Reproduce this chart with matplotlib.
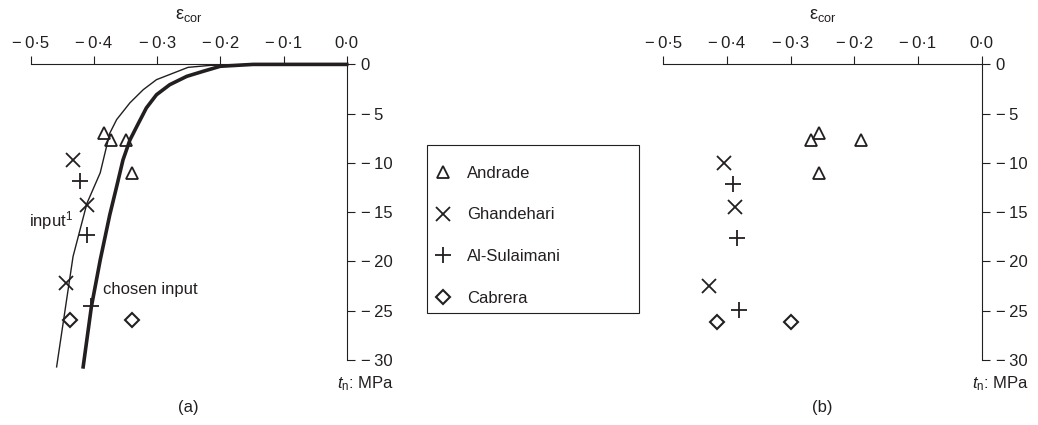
import matplotlib
matplotlib.use("Agg")
import matplotlib.pyplot as plt
from matplotlib.patches import Rectangle

INK = "#231f20"
MINUS = "\u2212\u2009"

# strain axis ticks (shared by both panels)
eps_ticks = [-0.5, -0.4, -0.3, -0.2, -0.1, 0.0]
eps_tick_labels = [MINUS + "0\u00b75", MINUS + "0\u00b74", MINUS + "0\u00b73",
                   MINUS + "0\u00b72", MINUS + "0\u00b71", "0\u00b70"]
t_ticks = [0, -5, -10, -15, -20, -25, -30]
t_tick_labels = ["0", MINUS + "5", MINUS + "10", MINUS + "15", MINUS + "20", MINUS + "25", MINUS + "30"]

# (a) model curves
input1_eps = [0.0, -0.148, -0.216, -0.251, -0.301, -0.322, -0.343, -0.364, -0.375, -0.390, -0.411, -0.433, -0.459]
input1_t = [0.0, 0.0, -0.1, -0.3, -1.55, -2.57, -3.9, -5.6, -7.0, -11.0, -14.1, -19.5, -30.7]
chosen_eps = [0.0, -0.148, -0.200, -0.227, -0.253, -0.280, -0.301, -0.317, -0.332, -0.343,
              -0.354, -0.364, -0.375, -0.390, -0.404, -0.417]
chosen_t = [0.0, 0.0, -0.19, -0.70, -1.21, -2.06, -3.08, -4.42, -6.28, -7.67,
            -9.70, -12.4, -15.3, -19.85, -24.6, -30.7]

# (a) test data
andrade_a_eps = [-0.384, -0.373, -0.349, -0.339]
andrade_a_t = [-7.0, -7.7, -7.7, -11.0]
ghandehari_a_eps = [-0.433, -0.411, -0.444]
ghandehari_a_t = [-9.7, -14.3, -22.2]
sulaimani_a_eps = [-0.422, -0.411, -0.405]
sulaimani_a_t = [-11.8, -17.3, -24.5]
cabrera_a_eps = [-0.438, -0.339]
cabrera_a_t = [-25.9, -25.9]

# (b) test data
andrade_b_eps = [-0.255, -0.268, -0.189, -0.255]
andrade_b_t = [-7.0, -7.7, -7.7, -11.0]
ghandehari_b_eps = [-0.404, -0.388, -0.428]
ghandehari_b_t = [-10.0, -14.5, -22.5]
sulaimani_b_eps = [-0.390, -0.384, -0.381]
sulaimani_b_t = [-12.1, -17.6, -24.9]
cabrera_b_eps = [-0.416, -0.299]
cabrera_b_t = [-26.1, -26.1]

series_names = ["Andrade", "Ghandehari", "Al-Sulaimani", "Cabrera"]
marker_styles = [
    dict(marker="^", markersize=9, markeredgewidth=1.3),
    dict(marker="x", markersize=9.5, markeredgewidth=1.3),
    dict(marker="+", markersize=12, markeredgewidth=1.3),
    dict(marker="D", markersize=6.8, markeredgewidth=1.5),
]

plt.rcParams.update({
    "font.family": ["Liberation Sans", "DejaVu Sans"],
    "font.size": 12,
    "text.color": INK,
    "mathtext.fontset": "custom",
    "mathtext.rm": "Liberation Sans",
    "mathtext.it": "Liberation Sans:italic",
    "mathtext.sf": "Liberation Sans",
})

W, H = 1038, 425
fig = plt.figure(figsize=(W / 100, H / 100), dpi=100)

px_per_t = 9.853
ax_h = 31 * px_per_t
ax_bottom = 1 - (64.4 + ax_h) / H
ax_a = fig.add_axes([30.7 / W, ax_bottom, (346.7 - 30.7) / W, ax_h / H])
ax_b = fig.add_axes([663.3 / W, ax_bottom, (981.7 - 663.3) / W, ax_h / H])


def style_axes(ax, tag):
    ax.set_xlim(-0.5, 0.0)
    ax.set_ylim(-31, 0)
    for side in ("left", "bottom"):
        ax.spines[side].set_visible(False)
    ax.spines["top"].set_bounds(-0.5, 0.0)
    ax.spines["right"].set_bounds(-30, 0)
    for side in ("top", "right"):
        ax.spines[side].set_linewidth(0.8)
        ax.spines[side].set_color(INK)
    ax.xaxis.tick_top()
    ax.yaxis.tick_right()
    ax.set_xticks(eps_ticks)
    ax.set_xticklabels(eps_tick_labels)
    ax.set_yticks(t_ticks)
    ax.set_yticklabels(t_tick_labels)
    ax.tick_params(direction="out", length=6, width=0.8, colors=INK, pad=4, labelsize=12)
    ax.patch.set_visible(False)
    ax.annotate(r"$\mathrm{\varepsilon}_{\mathrm{cor}}$", xy=(0.5, 1), xycoords="axes fraction",
                xytext=(0, 35), textcoords="offset points", ha="center", va="center", fontsize=13)
    ax.annotate(r"$\mathit{t}_{\mathrm{n}}$: MPa", xy=(1, -30), xycoords=("axes fraction", "data"),
                xytext=(-7, -17), textcoords="offset points", ha="left", va="center", fontsize=12)
    ax.annotate(tag, xy=(0.5, 0), xycoords="axes fraction", xytext=(0, -27),
                textcoords="offset points", ha="center", va="center", fontsize=12)


def scatter_sets(ax, sets):
    handles = []
    for (xs, ys), name, st in zip(sets, series_names, marker_styles):
        h, = ax.plot(xs, ys, linestyle="none", color=INK, fillstyle="none",
                     label=name, zorder=3, clip_on=False, **st)
        handles.append(h)
    return handles


style_axes(ax_a, "(a)")
style_axes(ax_b, "(b)")

ax_a.plot(input1_eps, input1_t, color=INK, lw=1.0, clip_on=False, zorder=2)
ax_a.plot(chosen_eps, chosen_t, color=INK, lw=2.6, clip_on=False, zorder=2,
          solid_joinstyle="round")

handles = scatter_sets(ax_a, [
    (andrade_a_eps, andrade_a_t),
    (ghandehari_a_eps, ghandehari_a_t),
    (sulaimani_a_eps, sulaimani_a_t),
    (cabrera_a_eps, cabrera_a_t),
])
scatter_sets(ax_b, [
    (andrade_b_eps, andrade_b_t),
    (ghandehari_b_eps, ghandehari_b_t),
    (sulaimani_b_eps, sulaimani_b_t),
    (cabrera_b_eps, cabrera_b_t),
])

ax_a.text(-0.502, -16.4, r"input$^{\mathrm{1}}$", ha="left", va="baseline", fontsize=12)
ax_a.text(-0.385, -23.3, "chosen input", ha="left", va="baseline", fontsize=12)

# legend between the panels, frame drawn separately
fig.legend(handles, series_names, loc="center left",
           bbox_to_anchor=(434.7 / W, 1 - 235.8 / H), frameon=False,
           borderpad=0, borderaxespad=0, handlelength=1.0,
           handletextpad=0.94, labelspacing=1.6, fontsize=12)
fig.add_artist(Rectangle((427.3 / W, 1 - 312.7 / H), 212 / W, 167.7 / H,
                         transform=fig.transFigure, fill=False, lw=0.8, ec=INK))

fig.savefig("out.png", dpi=100)
